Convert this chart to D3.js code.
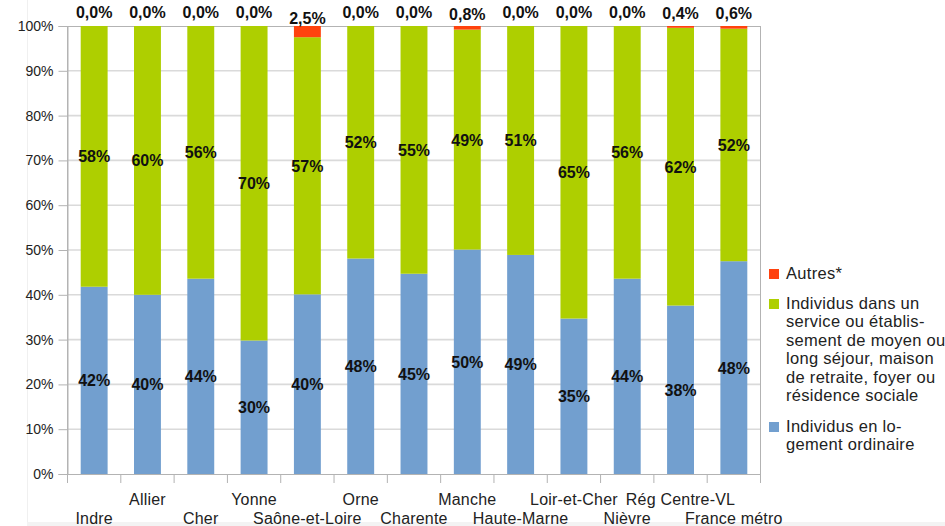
<!DOCTYPE html>
<html>
<head>
    <meta charset="utf-8">
    <script src="https://d3js.org/d3.v7.min.js"></script>
    <style>
        body { margin: 0; background: #fff; }
        svg text { font-family: "Liberation Sans", Arial, sans-serif; }
        .tick text { font-size: 14px; fill: #222; }
        .cat { font-size: 16px; fill: #222; text-anchor: middle; letter-spacing: 0.2px; }
        .val { font-size: 16px; font-weight: bold; fill: #111; text-anchor: middle; }
        .leg { font-size: 16.5px; fill: #222; letter-spacing: 0.3px; }
    </style>
    <title>Répartition des individus</title>
</head>
<body>
<svg width="945" height="526"></svg>
<script>
    // categories (x axis), two label rows alternate
    var categories = ["Indre", "Allier", "Cher", "Yonne", "Saône-et-Loire", "Orne", "Charente",
        "Manche", "Haute-Marne", "Loir-et-Cher", "Nièvre", "Rég Centre-VL", "France métro"];

    // series values, in %
    var logementOrdinaire = [41.8, 40.0, 43.6, 29.8, 40.1, 48.1, 44.7, 50.1, 48.9, 34.7, 43.6, 37.6, 47.5];
    var etablissement    = [58.2, 60.0, 56.4, 70.2, 57.4, 51.9, 55.3, 49.1, 51.1, 65.3, 56.4, 62.0, 51.9];
    var autres           = [0, 0, 0, 0, 2.5, 0, 0, 0.8, 0, 0, 0, 0.4, 0.6];

    var yTicks = [0, 10, 20, 30, 40, 50, 60, 70, 80, 90, 100];

    var colors = ["#729fcf", "#aecf00", "#ff420e"];

    var svg = d3.select("svg");
    var plotLeft = 67.5, plotRight = 760.5, plotTop = 26, plotBottom = 474;

    // light page edge seen on the left / bottom of the reference
    svg.append("line").attr("x1", 27.5).attr("x2", 27.5).attr("y1", 0).attr("y2", 526)
        .attr("stroke", "#f0f0f0");
    svg.append("rect").attr("x", 27).attr("y", 522).attr("width", 918).attr("height", 4)
        .attr("fill", "#f3f3f3");

    var table = categories.map(function (c, i) {
        return { cat: c, a: logementOrdinaire[i], b: etablissement[i], c: autres[i] };
    });

    var x = d3.scaleBand().domain(categories).range([plotLeft, plotRight]).padding(0);
    var y = d3.scaleLinear().domain([0, 100]).range([plotBottom, plotTop]);
    var bw = x.bandwidth() * 0.505;

    var stack = d3.stack().keys(["a", "b", "c"]);
    var layers = stack(table);

    // gridlines
    svg.append("g").selectAll("line").data(yTicks.slice(1, -1)).enter().append("line")
        .attr("x1", plotLeft).attr("x2", plotRight)
        .attr("y1", function (d) { return y(d); }).attr("y2", function (d) { return y(d); })
        .attr("stroke", "#dadada").attr("stroke-width", 1.6);

    // frame
    svg.append("rect").attr("x", plotLeft).attr("y", plotTop + 0.5)
        .attr("width", plotRight - plotLeft).attr("height", plotBottom - plotTop)
        .attr("fill", "none").attr("stroke", "#b3b3b3");

    // y axis
    var yAxis = svg.append("g").attr("transform", "translate(" + plotLeft + ",0)")
        .call(d3.axisLeft(y).tickValues(yTicks).tickSize(9).tickPadding(5)
            .tickFormat(function (d) { return d + "%"; }));
    yAxis.selectAll("line").attr("stroke", "#b3b3b3");
    yAxis.select(".domain").attr("stroke", "#b3b3b3");

    // x axis: ticks at category boundaries
    var bounds = categories.map(function (c) { return x(c); }).concat([plotRight]);
    svg.append("g").selectAll("line").data(bounds).enter().append("line")
        .attr("x1", function (d) { return d; }).attr("x2", function (d) { return d; })
        .attr("y1", plotBottom).attr("y2", plotBottom + 9)
        .attr("stroke", "#b3b3b3");
    svg.append("line").attr("x1", plotLeft).attr("x2", plotRight)
        .attr("y1", plotBottom + 0.5).attr("y2", plotBottom + 0.5)
        .attr("stroke", "#b3b3b3");

    svg.append("g").selectAll("text").data(categories).enter().append("text")
        .attr("class", "cat")
        .attr("x", function (d) { return x(d) + x.bandwidth() / 2; })
        .attr("y", function (d, i) { return i % 2 ? 505 : 524; })
        .text(function (d) { return d; });

    // bars
    var g = svg.append("g");
    layers.forEach(function (layer, k) {
        g.selectAll(".s" + k).data(layer).enter().append("rect")
            .attr("class", "s" + k)
            .attr("fill", colors[k])
            .attr("x", function (d) { return x(d.data.cat) + (x.bandwidth() - bw) / 2; })
            .attr("width", bw)
            .attr("y", function (d) { return y(d[1]); })
            .attr("height", function (d) { return y(d[0]) - y(d[1]); });
    });

    // labels
    layers.forEach(function (layer, k) {
        g.selectAll(".v" + k).data(layer).enter().append("text")
            .attr("class", "val")
            .attr("x", function (d) { return x(d.data.cat) + x.bandwidth() / 2; })
            .attr("y", function (d) {
                var mid = y((d[0] + d[1]) / 2);
                return k === 2 ? mid - 8 : mid + 6;
            })
            .text(function (d) {
                var v = d[1] - d[0];
                if (k === 2) return v.toFixed(1).replace(".", ",") + "%";
                return Math.round(v) + "%";
            });
    });

    // legend
    var legend = [
        { color: colors[2], y: 269, lines: ["Autres*"] },
        { color: colors[1], y: 299, lines: ["Individus dans un", "service ou établis-", "sement de moyen ou",
            "long séjour, maison", "de retraite, foyer ou", "résidence sociale"] },
        { color: colors[0], y: 422, lines: ["Individus en lo-", "gement ordinaire"] }
    ];
    legend.forEach(function (l) {
        svg.append("rect").attr("x", 769).attr("y", l.y).attr("width", 10).attr("height", 10)
            .attr("fill", l.color);
        var t = svg.append("text").attr("class", "leg").attr("x", 786).attr("y", l.y + 10);
        l.lines.forEach(function (s, i) {
            t.append("tspan").attr("x", 786).attr("dy", i ? 18.4 : 0).text(s);
        });
    });
</script>
</body>
</html>
